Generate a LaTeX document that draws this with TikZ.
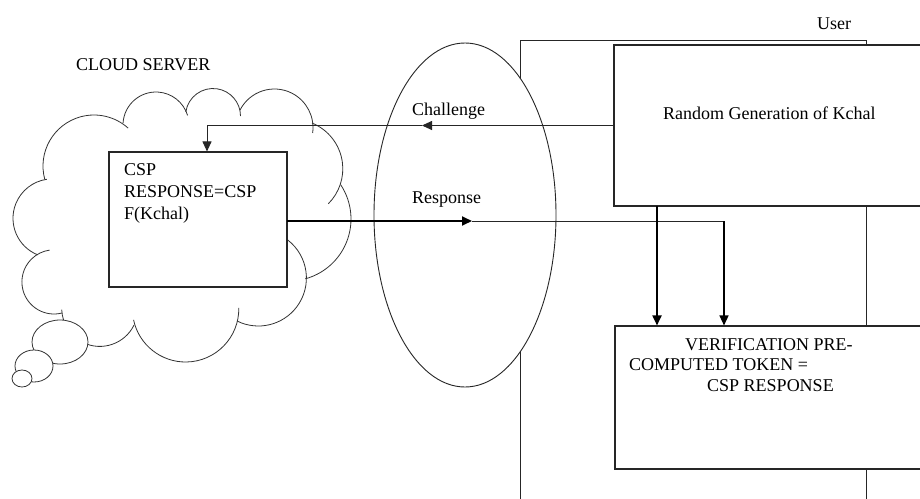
\documentclass[tikz,border=0pt]{standalone}
\usepackage{fontspec}
\setmainfont{Liberation Serif}
\usetikzlibrary{arrows.meta,shapes.geometric}
\begin{document}
\begin{tikzpicture}[x=1pt,y=-1pt,
  lw/.style={line width=0.9pt, draw=black!85},
  box/.style={draw=black!85, line width=1.1pt, fill=white, inner sep=0pt},
  lbl/.style={anchor=base west, inner sep=0pt, font=\fontsize{18}{21}\selectfont},
  cl/.style={line width=0.8pt, draw=black!80},
  bub/.style={line width=0.8pt, draw=black!80, fill=white},
  tip/.style={-{Triangle[length=10pt,width=9pt]}}]
\useasboundingbox (0,0) rectangle (920,498);
\clip (0,0) rectangle (920,498);
\fill[white] (0,0) rectangle (920,498);
% user frame
\draw[lw] (520,505) -- (520,40) -- (866,40) -- (866,505);
% ellipse
\node[draw=black!85, line width=0.9pt, fill=white, ellipse, minimum width=182pt, minimum height=344pt, inner sep=0pt] (chan) at (465,215) {};
% cloud
\draw[cl] (94,166) ++(164.7:51) arc[start angle=164.7, end angle=312, radius=51];
\draw[cl] (156,125) ++(183.5:33) arc[start angle=183.5, end angle=343, radius=33];
\draw[cl] (213,116) ++(188.7:27.5) arc[start angle=188.7, end angle=360, radius=27.5];
\draw[cl] (274.4,127.6) ++(207.1:38.6) arc[start angle=207.1, end angle=368, radius=38.6];
\draw[cl] (293.4,168.8) ++(292.1:49.4) arc[start angle=292.1, end angle=405, radius=49.4];
\draw[cl] (289,219) ++(326.3:62) arc[start angle=326.3, end angle=434.8, radius=62];
\draw[cl] (258.4,278) ++(307.3:48) arc[start angle=307.3, end angle=476, radius=48];
\draw[cl] (185.6,308.8) ++(-1:53.2) arc[start angle=-1, end angle=168, radius=53.2];
\draw[cl] (99.8,308.3) ++(26:38.1) arc[start angle=26, end angle=178, radius=38.1];
\draw[cl] (54,281.9) ++(75:32.1) arc[start angle=75, end angle=262, radius=32.1];
\draw[cl] (52.4,218.3) ++(112:39.4) arc[start angle=112, end angle=262, radius=39.4];
% thought bubbles
\draw[bub] (60,342) ellipse[x radius=28, y radius=22];
\draw[bub] (34,366) ellipse[x radius=19, y radius=16];
\draw[bub] (22,378.5) ellipse[x radius=10, y radius=8.5];
% boxes
\node[box, minimum width=178pt, minimum height=135pt] (csp) at (198,219.5) {};
\node[box, minimum width=316pt, minimum height=161pt] (rand) at (772,125.5) {};
\node[box, minimum width=315pt, minimum height=143pt] (verif) at (772.5,397.5) {};
% texts
\node[lbl] (user) at (817,29) {User};
\node[lbl] (cloudt) at (76,70) {CLOUD SERVER};
\node[lbl] (chal) at (412,115) {Challenge};
\node[lbl] (resp) at (412,203) {Response};
\node[lbl] (randt) at (663,119) {Random Generation of Kchal};
\node[lbl] (csp1) at (124,175) {CSP};
\node[lbl] (csp2) at (124,197) {RESPONSE=CSP};
\node[lbl] (csp3) at (124,219) {F(Kchal)};
\node[lbl] (ver1) at (685,350) {VERIFICATION PRE-};
\node[lbl] (ver2) at (629,370) {COMPUTED TOKEN =};
\node[lbl] (ver3) at (707,391) {CSP RESPONSE};
% connectors
\coordinate (chtip) at (422,125.5);
\coordinate (cspin) at (207,125.5);
\draw[lw, tip] (rand.west) -- (chtip);
\draw[lw, tip] (chtip) -- (cspin) -- (cspin |- csp.north);
\coordinate (rsout) at (287,221);
\coordinate (rstip) at (472,221);
\coordinate (rturn) at (724,221);
\draw[line width=1.8pt, tip] (rsout) -- (rstip);
\draw[lw] (rstip) -- (rturn);
\draw[line width=1.4pt, tip] (rturn) -- (rturn |- verif.north);
\coordinate (rdown) at (657,206);
\draw[line width=1.8pt, tip] (rdown) -- (rdown |- verif.north);
\end{tikzpicture}
\end{document}
